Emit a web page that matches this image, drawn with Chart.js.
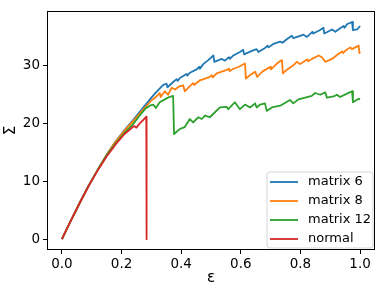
<!DOCTYPE html>
<html>
<head>
<meta charset="utf-8">
<script src="https://cdn.jsdelivr.net/npm/chart.js@4.4.0/dist/chart.umd.min.js"></script>
<style>
  html, body { margin: 0; padding: 0; background: #ffffff; }
  #wrap { width: 382px; height: 294px; }
</style>
</head>
<body>
<div id="wrap"><canvas id="chart" width="382" height="294"></canvas></div>
<script>
// Axis ticks
const xTicks = [0, 0.2, 0.4, 0.6, 0.8, 1.0];
const yTicks = [0, 10, 20, 30];

const seriesNames = ['matrix 6', 'matrix 8', 'matrix 12', 'normal'];
const seriesColors = ['#1f77b4', '#ff7f0e', '#2ca02c', '#d62728'];

// matrix 6 (strain, stress)
const matrix6X = [0, 0.03, 0.06, 0.09, 0.12, 0.15, 0.18, 0.21, 0.24, 0.27, 0.30, 0.317, 0.340, 0.351, 0.354,
  0.373, 0.385, 0.388, 0.396, 0.418, 0.421, 0.429, 0.452, 0.460, 0.463, 0.474, 0.491, 0.508, 0.511, 0.536,
  0.547, 0.560, 0.563, 0.575, 0.597, 0.608, 0.611, 0.637, 0.653, 0.659, 0.681, 0.690, 0.693, 0.709, 0.732,
  0.740, 0.754, 0.771, 0.776, 0.799, 0.810, 0.822, 0.840, 0.843, 0.866, 0.877, 0.880, 0.906, 0.917, 0.933,
  0.945, 0.948, 0.956, 0.973, 0.976, 0.990, 1.0];
const matrix6Y = [0, 3.2, 6.3, 9.3, 12.0, 14.6, 16.9, 18.9, 20.7, 22.6, 24.5, 25.5, 26.7, 26.9, 26.3,
  27.2, 27.7, 27.4, 27.9, 28.6, 28.3, 28.8, 29.4, 29.8, 29.5, 30.3, 31.0, 31.8, 30.7, 31.2,
  30.9, 31.5, 31.2, 31.8, 32.4, 32.8, 32.0, 32.6, 32.9, 32.4, 33.1, 33.5, 33.2, 33.8, 34.2,
  34.0, 34.6, 35.2, 34.8, 35.2, 35.4, 35.0, 35.9, 35.6, 36.2, 36.6, 35.6, 36.3, 35.9, 36.5,
  36.9, 36.6, 37.2, 37.6, 36.2, 36.3, 36.9];

// matrix 8
const matrix8X = [0, 0.03, 0.06, 0.09, 0.12, 0.15, 0.18, 0.21, 0.24, 0.27, 0.30, 0.317, 0.328, 0.331, 0.345,
  0.356, 0.368, 0.379, 0.396, 0.407, 0.412, 0.429, 0.440, 0.443, 0.463, 0.480, 0.496, 0.503, 0.506, 0.519,
  0.536, 0.553, 0.560, 0.563, 0.575, 0.592, 0.614, 0.617, 0.631, 0.648, 0.655, 0.672, 0.698, 0.701, 0.721,
  0.738, 0.741, 0.754, 0.776, 0.788, 0.799, 0.816, 0.823, 0.826, 0.838, 0.861, 0.872, 0.883, 0.906, 0.928,
  0.940, 0.943, 0.950, 0.967, 0.973, 0.995, 0.998, 1.0];
const matrix8Y = [0, 3.2, 6.3, 9.3, 12.0, 14.6, 16.9, 18.8, 20.5, 22.3, 24.0, 24.7, 25.3, 24.6, 25.6,
  25.0, 26.2, 25.9, 26.5, 26.6, 25.6, 26.5, 27.0, 26.7, 27.5, 27.8, 28.1, 28.4, 28.0, 28.7,
  29.0, 29.3, 29.5, 29.1, 29.5, 29.8, 30.4, 27.8, 28.4, 29.0, 28.1, 29.0, 29.8, 29.4, 30.4,
  31.0, 28.7, 29.3, 30.1, 30.7, 30.3, 30.9, 31.1, 30.8, 31.2, 31.8, 31.5, 30.7, 31.2, 32.1,
  32.5, 32.2, 32.6, 33.2, 32.9, 33.5, 32.2, 32.4];

// matrix 12
const matrix12X = [0, 0.03, 0.06, 0.09, 0.12, 0.15, 0.18, 0.21, 0.24, 0.261, 0.28, 0.295, 0.306, 0.315, 0.328,
  0.345, 0.360, 0.373, 0.376, 0.396, 0.412, 0.429, 0.440, 0.457, 0.469, 0.480, 0.496, 0.530, 0.553, 0.558,
  0.580, 0.597, 0.614, 0.631, 0.648, 0.653, 0.665, 0.681, 0.687, 0.704, 0.732, 0.765, 0.776, 0.793, 0.816,
  0.838, 0.849, 0.866, 0.883, 0.889, 0.911, 0.922, 0.933, 0.956, 0.973, 0.976, 0.995, 1.0];
const matrix12Y = [0, 3.2, 6.3, 9.3, 12.0, 14.5, 16.6, 18.4, 20.0, 21.4, 22.6, 23.1, 23.3, 22.7, 23.7,
  24.2, 24.6, 24.8, 18.2, 19.1, 19.4, 20.8, 20.2, 21.1, 20.8, 21.4, 21.1, 22.8, 22.9, 22.5,
  23.7, 22.5, 23.3, 22.8, 23.5, 22.8, 23.3, 23.5, 22.2, 22.8, 23.1, 24.1, 23.5, 24.2, 24.5,
  24.8, 25.3, 25.0, 25.4, 24.5, 24.7, 25.0, 24.6, 25.2, 25.6, 23.7, 24.3, 24.2];

// normal
const normalX = [0, 0.03, 0.06, 0.09, 0.12, 0.15, 0.18, 0.21, 0.233, 0.242, 0.250, 0.262, 0.276, 0.283, 0.284];
const normalY = [0, 3.2, 6.3, 9.2, 11.9, 14.3, 16.4, 18.2, 19.2, 19.6, 19.3, 20.1, 20.8, 21.2, 0];

const seriesX = [matrix6X, matrix8X, matrix12X, normalX];
const seriesY = [matrix6Y, matrix8Y, matrix12Y, normalY];

const FONT = 'DejaVu Sans';

// matplotlib style frame + legend box in lower right
const frameLegend = {
  id: 'frameLegend',
  afterDraw(chart) {
    const ctx = chart.ctx;
    const a = chart.chartArea;
    ctx.save();
    ctx.strokeStyle = '#000';
    ctx.lineWidth = 1;
    ctx.strokeRect(Math.round(a.left) + 0.5, Math.round(a.top) + 0.5,
      Math.round(a.right - a.left) - 1, Math.round(a.bottom - a.top) - 1);

    // legend
    const bx = 267, by = 172, bw = 106, bh = 76, r = 3;
    ctx.beginPath();
    ctx.moveTo(bx + r, by);
    ctx.arcTo(bx + bw, by, bx + bw, by + bh, r);
    ctx.arcTo(bx + bw, by + bh, bx, by + bh, r);
    ctx.arcTo(bx, by + bh, bx, by, r);
    ctx.arcTo(bx, by, bx + bw, by, r);
    ctx.closePath();
    ctx.fillStyle = 'rgba(255,255,255,0.8)';
    ctx.fill();
    ctx.strokeStyle = 'rgba(204,204,204,0.8)';
    ctx.lineWidth = 1;
    ctx.stroke();

    ctx.font = '13px "' + FONT + '"';
    ctx.textBaseline = 'middle';
    ctx.textAlign = 'left';
    seriesNames.forEach((name, i) => {
      const y = 182 + i * 19;
      ctx.strokeStyle = seriesColors[i];
      ctx.lineWidth = 1.8;
      ctx.beginPath();
      ctx.moveTo(270, y);
      ctx.lineTo(298, y);
      ctx.stroke();
      ctx.fillStyle = '#000';
      ctx.fillText(name, 308, y);
    });
    ctx.restore();
  }
};

const datasets = seriesNames.map((name, i) => ({
  label: name,
  data: seriesX[i].map((x, j) => ({ x: x, y: seriesY[i][j] })),
  borderColor: seriesColors[i],
  backgroundColor: seriesColors[i],
  borderWidth: 1.8,
  borderJoinStyle: 'round',
  pointRadius: 0,
  showLine: true,
  fill: false,
  tension: 0,
  order: 4 - i
}));

new Chart(document.getElementById('chart').getContext('2d'), {
  type: 'scatter',
  data: { datasets: datasets },
  options: {
    responsive: false,
    animation: false,
    layout: { padding: { top: 6, right: 7, left: 0, bottom: 0 } },
    plugins: {
      legend: { display: false },
      tooltip: { enabled: false }
    },
    scales: {
      x: {
        type: 'linear',
        min: -0.05,
        max: 1.05,
        afterBuildTicks: scale => { scale.ticks = xTicks.map(v => ({ value: v })); },
        afterFit: scale => { scale.height = 44; },
        grid: { drawOnChartArea: false, tickLength: 4, tickColor: '#000' },
        border: { display: false },
        ticks: {
          padding: 2,
          color: '#000',
          font: { family: FONT, size: 13.5 },
          maxRotation: 0,
          callback: v => v.toFixed(1)
        },
        title: {
          display: true,
          text: 'ε',
          color: '#000',
          font: { family: FONT, size: 15 },
          padding: { top: 0, bottom: 7 }
        }
      },
      y: {
        type: 'linear',
        min: -1.88,
        max: 39.48,
        afterBuildTicks: scale => { scale.ticks = yTicks.map(v => ({ value: v })); },
        afterFit: scale => { scale.width = 47; },
        grid: { drawOnChartArea: false, tickLength: 4, tickColor: '#000' },
        border: { display: false },
        ticks: {
          padding: 3,
          color: '#000',
          font: { family: FONT, size: 13.5 },
          callback: v => String(v)
        },
        title: {
          display: true,
          text: 'Σ',
          color: '#000',
          font: { family: FONT, size: 15 },
          padding: { top: 2, bottom: 0 }
        }
      }
    }
  },
  plugins: [frameLegend]
});
</script>
</body>
</html>
